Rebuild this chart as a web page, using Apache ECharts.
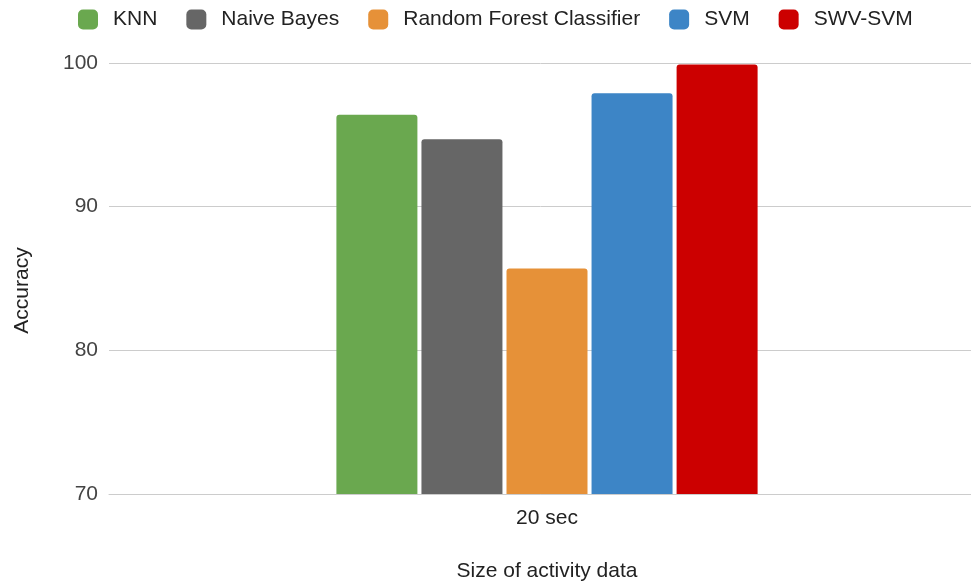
<!DOCTYPE html>
<html>
<head>
<meta charset="utf-8">
<script src="https://cdn.jsdelivr.net/npm/echarts@6/dist/echarts.min.js"></script>
<style>
  html, body { margin: 0; padding: 0; background: #fff; }
  #chart { width: 971px; height: 583px; }
</style>
</head>
<body>
<div id="chart"></div>
<script>
// Accuracy of each classifier on 20-second activity windows
const categories = ['20 sec'];
const seriesNames = ['KNN', 'Naive Bayes', 'Random Forest Classifier', 'SVM', 'SWV-SVM'];
const seriesColors = ['#6aa84f', '#666666', '#e69138', '#3d85c6', '#cc0000'];
const knn = [96.4];
const naiveBayes = [94.7];
const randomForest = [85.7];
const svm = [97.9];
const swvSvm = [99.9];
const yTicks = [70, 80, 90, 100];

const values = [knn, naiveBayes, randomForest, svm, swvSvm];
const font = 'Liberation Sans, Arial, sans-serif';
const fs = 21;

const chart = echarts.init(document.getElementById('chart'));
chart.setOption({
  animation: false,
  textStyle: { fontFamily: font },
  legend: {
    left: 73,
    top: 4,
    itemWidth: 20,
    itemHeight: 20,
    itemGap: 29,
    icon: 'roundRect',
    textStyle: { fontFamily: font, fontSize: fs, color: '#222', padding: [0, 0, 0, 10] },
    data: seriesNames
  },
  // plot runs slightly past the right edge of the canvas
  grid: { left: 109, right: -14, top: 63, bottom: 89, outerBoundsMode: 'none', containLabel: false },
  xAxis: {
    type: 'category',
    data: categories,
    name: 'Size of activity data',
    nameLocation: 'middle',
    nameGap: 67,
    nameTextStyle: { fontFamily: font, fontSize: fs, color: '#222' },
    axisLine: { show: true, lineStyle: { color: '#cccccc', width: 1 } },
    axisTick: { show: false },
    axisLabel: { fontFamily: font, fontSize: fs, color: '#222', margin: 14 }
  },
  yAxis: {
    type: 'value',
    min: yTicks[0],
    max: yTicks[yTicks.length - 1],
    interval: 10,
    name: 'Accuracy',
    nameLocation: 'middle',
    nameGap: 76,
    nameTextStyle: { fontFamily: font, fontSize: fs, color: '#222', padding: [0, 24, 0, 0] },
    axisLine: { show: false },
    axisTick: { show: false },
    axisLabel: { fontFamily: font, fontSize: fs, color: '#444', margin: 11 },
    splitLine: { lineStyle: { color: '#cccccc', width: 1 } }
  },
  series: seriesNames.map((name, i) => ({
    name: name,
    type: 'bar',
    data: values[i],
    barWidth: 81,
    barGap: '5%',
    itemStyle: { color: seriesColors[i], borderRadius: [3, 3, 0, 0] }
  }))
});
</script>
</body>
</html>
